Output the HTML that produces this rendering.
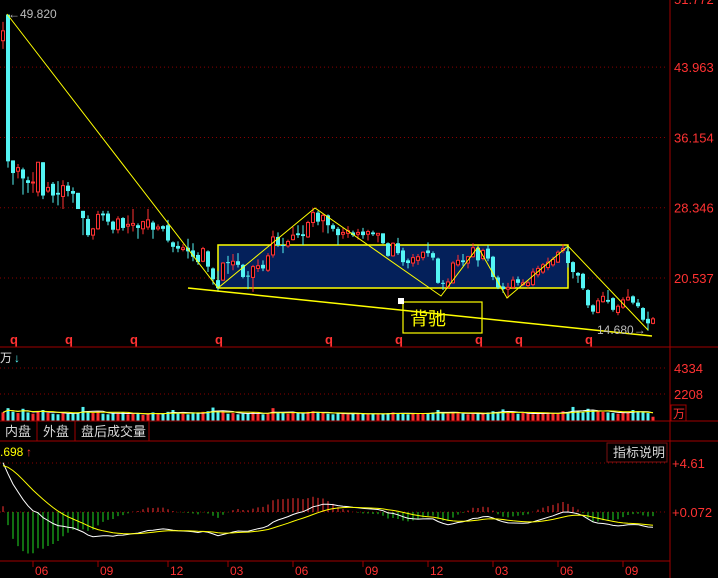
<!DOCTYPE html>
<html><head><meta charset="utf-8">
<style>
html,body{margin:0;padding:0;background:#000;}
body{width:718px;height:578px;overflow:hidden;position:relative;font-family:"Liberation Sans","Noto Sans CJK SC",sans-serif;}
svg{position:absolute;left:0;top:0;}
.t{font-family:"Liberation Sans","Noto Sans CJK SC",sans-serif;}
</style></head>
<body>
<svg id="chart" width="718" height="578" viewBox="0 0 718 578" xmlns="http://www.w3.org/2000/svg">
  <rect x="0" y="0" width="718" height="578" fill="#000"/>
  <g id="grid"></g>
  <rect x="218" y="245" width="350" height="43" fill="#04205a" stroke="#ffff00" stroke-width="1.5"/>
  <g id="candles"></g>
  <g id="trend" stroke="#ffff00" stroke-width="1" fill="none">
    <polyline points="7,14 218,288 315,208 441,296 478,247 507,298 568,246 648,330"/>
    <line x1="188" y1="288" x2="652" y2="336" stroke-width="1.5"/>
  </g>
  <rect x="403" y="302" width="79" height="31" fill="none" stroke="#ffff00" stroke-width="1.2"/>
  <rect x="398" y="298" width="6" height="6" fill="#fff"/>
  <text x="410" y="325" fill="#ffff00" font-size="18" class="t">背驰</text>
  <text x="8" y="18" fill="#bbbbbb" font-size="12" class="t">←49.820</text>
  <text x="597" y="334" fill="#bbbbbb" font-size="12" class="t">14.680→</text>
  <g id="qmarks"></g>
  <g id="vol"></g>
  <g id="macd"></g>
  <g id="frame" stroke="#a00000" stroke-width="1">
    <line x1="670" y1="0" x2="670" y2="578"/>
    <line x1="0" y1="347" x2="718" y2="347"/>
    <line x1="0" y1="421" x2="718" y2="421"/>
    <line x1="0" y1="441" x2="718" y2="441"/>
    <line x1="0" y1="561" x2="670" y2="561"/>
    <line x1="37" y1="421" x2="37" y2="441"/>
    <line x1="75" y1="421" x2="75" y2="441"/>
    <line x1="149" y1="421" x2="149" y2="441"/>
  </g>
  <g id="axisLabels"></g>
  <text x="5" y="436" fill="#d8d8d8" font-size="13" class="t">内盘</text>
  <text x="43" y="436" fill="#d8d8d8" font-size="13" class="t">外盘</text>
  <text x="81" y="436" fill="#d8d8d8" font-size="13" class="t">盘后成交量</text>
  <rect x="607" y="443" width="60" height="19" fill="#000" stroke="#7a1010"/>
  <text x="613" y="457" fill="#d8d8d8" font-size="13" class="t">指标说明</text>
  <text x="0" y="362" fill="#e0e0e0" font-size="12" class="t">万</text>
  <text x="14" y="362" fill="#54f5f5" font-size="12" class="t">↓</text>
  <text x="0" y="456" fill="#ffff00" font-size="12" class="t">.698</text>
  <text x="26" y="456" fill="#ff3232" font-size="12" class="t">↑</text>
  <rect x="671" y="405" width="15" height="16" fill="none" stroke="#a00000"/>
  <text x="673" y="418" fill="#ff3232" font-size="12" class="t">万</text>
</svg>
<script>
const opens=[46.9,49.8,33.6,32.4,32.6,31.4,31.1,30.1,33.4,30.2,31.0,30.0,29.6,30.8,30.2,30.0,28.0,27.1,25.3,26.0,27.7,27.7,26.8,25.9,27.2,26.3,26.4,26.4,26.0,26.2,26.7,26.0,26.3,26.4,24.5,24.1,23.7,23.9,23.6,23.1,22.4,23.5,21.6,20.3,20.3,22.3,22.0,22.4,22.0,20.8,20.6,21.6,22.0,21.4,23.1,25.1,24.2,24.1,24.8,25.5,25.4,25.1,26.7,27.8,26.9,27.5,26.4,26.0,25.4,25.5,25.6,25.4,25.7,25.4,25.6,25.3,25.5,24.4,23.0,24.4,23.6,22.5,22.2,22.5,22.8,23.6,23.3,22.7,20.0,19.5,20.0,22.0,22.5,22.2,22.9,23.9,22.7,23.8,22.9,20.6,19.6,19.3,19.5,20.4,19.8,19.7,19.8,20.9,21.2,21.7,22.0,22.3,23.6,23.5,22.3,21.1,21.0,19.2,17.5,16.7,17.9,18.1,18.3,16.7,17.3,18.1,18.5,17.8,17.2,16.0,15.5];
const closes=[48.0,33.5,32.2,32.8,31.6,31.1,31.2,33.4,29.7,30.6,29.7,29.8,30.8,30.2,29.9,28.2,27.2,25.3,26.0,27.6,27.5,26.8,25.9,27.1,26.1,26.5,26.6,26.1,26.8,27.0,25.9,26.2,26.0,24.7,24.0,23.8,23.9,23.5,22.9,22.3,23.8,21.8,20.4,19.4,22.2,22.2,22.4,22.0,20.65,20.7,21.8,21.9,21.6,23.0,25.1,24.2,24.1,24.6,25.3,25.3,25.2,26.7,27.8,26.8,27.5,26.4,26.0,25.3,25.6,25.8,25.3,25.6,25.3,25.7,25.4,25.5,24.4,23.0,24.4,23.3,22.3,22.2,22.8,22.9,23.4,23.3,22.8,20.0,19.9,20.1,22.2,22.5,22.3,22.9,23.9,22.5,23.6,22.7,20.65,19.5,19.3,19.5,20.3,20.0,20.0,20.0,21.2,21.6,22.0,22.3,22.6,23.4,23.8,22.2,21.2,20.8,19.4,17.5,16.8,18.0,18.5,17.9,17.0,17.4,18.1,18.4,17.8,17.4,15.9,15.5,16.0];
const highs=[49.0,49.82,33.6,33.2,32.8,31.8,32.3,33.4,33.4,31.2,31.2,31.3,31.4,31.2,30.6,30.0,28.0,27.5,26.1,28.0,28.0,28.0,26.9,27.4,27.3,27.5,28.2,26.6,26.9,28.2,26.9,26.5,26.4,27.0,24.6,24.6,24.3,24.9,24.4,23.4,24.0,23.6,21.7,21.3,22.3,23.0,23.2,23.3,22.1,21.3,22.0,22.6,22.5,23.3,25.8,25.6,25.0,24.8,26.2,26.4,26.4,26.9,28.3,28.0,27.7,27.6,26.6,26.2,26.1,26.3,25.8,26.0,26.1,25.9,25.8,25.5,25.5,24.5,24.5,25.0,23.9,22.7,23.2,23.2,23.5,24.5,23.5,22.8,20.3,20.5,22.4,23.1,23.2,23.0,24.4,24.1,23.8,24.2,23.0,20.8,20.0,20.0,20.7,20.7,20.4,20.3,21.6,21.9,22.2,22.8,22.9,23.6,24.3,24.1,22.4,21.2,21.1,19.3,17.6,18.3,19.0,19.2,18.4,17.6,18.4,19.3,18.6,18.2,17.3,16.8,16.2];
const lows=[46.0,32.8,30.9,31.6,29.8,30.0,30.0,29.6,29.3,30.0,28.9,28.6,28.2,29.6,28.9,28.2,25.3,25.1,24.8,25.9,26.9,26.4,25.5,25.5,25.8,25.5,25.7,24.9,25.4,25.9,24.9,25.8,25.7,24.5,23.4,23.4,23.5,22.7,22.4,22.0,22.3,21.2,19.8,19.0,20.2,21.0,21.4,21.7,20.5,19.3,19.0,21.2,21.3,21.2,22.8,24.0,23.3,23.9,24.7,25.0,24.2,25.0,26.2,26.4,25.6,25.5,25.7,24.2,24.9,25.0,25.1,24.8,24.9,24.7,25.2,24.5,24.3,22.9,22.9,23.1,21.9,21.6,21.8,22.0,22.5,22.9,22.5,19.9,19.2,19.4,19.9,21.8,21.9,21.6,22.8,21.8,22.5,22.4,20.3,19.3,18.9,18.3,19.3,19.7,19.6,19.4,19.6,20.6,21.0,21.4,21.8,22.2,23.3,21.7,20.5,20.0,19.2,17.2,16.5,16.6,17.8,17.7,16.8,16.4,17.1,18.0,17.6,17.2,15.7,14.68,15.4];
const volumes=[700,1050,750,650,1000,700,600,800,900,650,600,550,700,600,650,700,1150,800,650,750,600,550,650,600,700,550,600,650,500,600,700,550,600,750,900,650,600,550,650,700,750,800,1100,750,800,600,650,550,600,650,700,600,550,650,1050,700,650,600,700,650,600,750,800,700,650,600,550,650,600,550,600,650,600,550,600,550,600,650,700,600,650,550,600,650,600,650,700,900,650,600,700,650,600,550,600,650,600,700,800,750,950,700,650,600,650,600,550,650,600,700,650,600,800,750,1150,800,700,1000,850,800,750,700,650,600,750,700,900,800,700,650,350];
const tickLabels=["06","09","12","03","06","09","12","03","06","09"];
const tickIdx=[6,19,33,45,58,72,85,98,111,124];
const qIdx=[2,13,26,43,65,79,95,103,117];
const priceTicks=[43.963,36.154,28.346,20.537];
const volTicks=[4334,2208];
const macdTicks=[4.61,0.072];
const macdInit={ema12:41.0,ema26:36.6,dea:4.3};

const NS="http://www.w3.org/2000/svg";
function el(tag,attrs,parent){const e=document.createElementNS(NS,tag);for(const k in attrs)e.setAttribute(k,attrs[k]);parent.appendChild(e);return e;}
const RED="#ff3232",CYAN="#54f5f5";
const xOf=i=>3+5*i;
const py=p=>278-(p-20.537)*9.0;
const vy=v=>421-v*26/2126;
const my=v=>512-(v-0.072)*10.8;

const grid=document.getElementById('grid');
const ax=document.getElementById('axisLabels');
priceTicks.forEach(p=>{
  const l=el('line',{x1:0,x2:668,y1:py(p),y2:py(p),stroke:'#8a0000','stroke-dasharray':'1,3'},grid);
  
  
  const t=el('text',{x:674,y:py(p)+5,fill:RED,'font-size':13},ax);
  
  
  t.textContent=p.toFixed(3);
});
const topT=el('text',{x:674,y:4,fill:RED,'font-size':13},ax);


topT.textContent="51.772";
volTicks.forEach(v=>{
  const l=el('line',{x1:0,x2:668,y1:vy(v),y2:vy(v),stroke:'#8a0000','stroke-dasharray':'1,3'},grid);
  
  
  const t=el('text',{x:674,y:vy(v)+5,fill:RED,'font-size':13},ax);
  
  
  t.textContent=v;
});
macdTicks.forEach(v=>{
  const l=el('line',{x1:0,x2:668,y1:my(v),y2:my(v),stroke:'#8a0000','stroke-dasharray':'1,3'},grid);
  
  
  const t=el('text',{x:672,y:my(v)+5,fill:RED,'font-size':13},ax);
  
  
  t.textContent='+'+v;
});
tickIdx.forEach((idx,k)=>{
  const x=xOf(idx);
  const l=el('line',{x1:x,x2:x,y1:561,y2:567,stroke:'#a00000'},ax);
  
  
  const t=el('text',{x:x+2,y:575,fill:RED,'font-size':12},ax);
  
  
  t.textContent=tickLabels[k];
});
const qg=document.getElementById('qmarks');
qIdx.forEach(idx=>{
  const t=el('text',{x:xOf(idx)-3,y:344,fill:RED,'font-size':13,'font-weight':'bold'},qg);
  
  
  t.textContent='q';
});

const cg=document.getElementById('candles');
opens.forEach((o,i)=>{
  const c=closes[i],x=xOf(i),up=c>=o,col=up?RED:CYAN;
  const w=el('line',{x1:x,x2:x,y1:py(highs[i]),y2:py(lows[i]),stroke:col,'stroke-width':1},cg);
  
  
  const top=py(Math.max(o,c)),h=Math.max(1,Math.abs(py(o)-py(c)));
  const b=up?el('rect',{x:x-1.5,y:top,width:3,height:h,fill:'#000',stroke:col,'stroke-width':1},cg)
            :el('rect',{x:x-2,y:top,width:4,height:h,fill:col},cg);
  
  
});

const vg=document.getElementById('vol');
volumes.forEach((v,i)=>{
  const up=closes[i]>=opens[i];
  const r=el('rect',{x:xOf(i)-1.5,y:vy(v),width:3,height:421-vy(v),fill:up?RED:CYAN},vg);
  
  
});
function ma(arr,n){return arr.map((_,i)=>{const s=arr.slice(Math.max(0,i-n+1),i+1);return s.reduce((a,b)=>a+b,0)/s.length;});}
[[5,'#ffffff'],[10,'#ffff00']].forEach(([n,col])=>{
  const m=ma(volumes,n);
  const pl=el('polyline',{points:m.map((v,i)=>xOf(i)+','+vy(v).toFixed(1)).join(' '),fill:'none',stroke:col,'stroke-width':1},vg);
  
  
});

let e12=macdInit.ema12,e26=macdInit.ema26,dea=macdInit.dea;
const dif=[],deaArr=[];
closes.forEach(c=>{e12+= (c-e12)*2/13; e26+=(c-e26)*2/27; const d=e12-e26; dea+=(d-dea)*2/10; dif.push(d); deaArr.push(dea);});
const mg=document.getElementById('macd');
dif.forEach((d,i)=>{
  const h=2*(d-deaArr[i]);
  const l=el('line',{x1:xOf(i),x2:xOf(i),y1:my(0.072),y2:Math.min(561,my(0.072+h)),stroke:h>=0?RED:'#22dd22','stroke-width':1},mg);
  
  
});
const difL=el('polyline',{points:dif.map((v,i)=>xOf(i)+','+my(v).toFixed(1)).join(' '),fill:'none',stroke:'#ffffff','stroke-width':1},mg);


const deaL=el('polyline',{points:deaArr.map((v,i)=>xOf(i)+','+my(v).toFixed(1)).join(' '),fill:'none',stroke:'#ffff00','stroke-width':1},mg);


</script>
</body></html>
